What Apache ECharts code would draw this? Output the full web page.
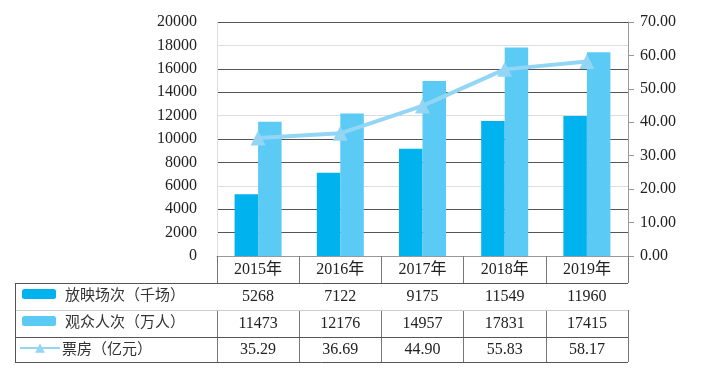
<!DOCTYPE html>
<html>
<head>
<meta charset="utf-8">
<script src="https://cdn.jsdelivr.net/npm/echarts@6/dist/echarts.min.js"></script>
<style>
html,body{margin:0;padding:0;background:#fff;}
#chart{width:709px;height:371px;}
</style>
</head>
<body>
<div id="chart"></div>
<script>
// ---- data ----
var years = ['2015年', '2016年', '2017年', '2018年', '2019年'];
var screenings = [5268, 7122, 9175, 11549, 11960];      // 放映场次（千场）
var audience = [11473, 12176, 14957, 17831, 17415];     // 观众人次（万人）
var boxOffice = [35.29, 36.69, 44.90, 55.83, 58.17];    // 票房（亿元）
var seriesNames = ['放映场次（千场）', '观众人次（万人）', '票房（亿元）'];
var leftTicks = { min: 0, max: 20000, interval: 2000 };
var rightTicks = { min: 0, max: 70, interval: 10 };

// ---- layout ----
var W = 709, H = 371;
var PL = 217, PR = 628, PT = 22, PB = 256;
var rows = [256, 283, 310, 337, 362];
var TABLE_LEFT = 15;
var serif = "'Liberation Serif', 'Times New Roman', 'Noto Sans CJK SC', serif";
var cjk = "'Noto Sans CJK SC', sans-serif";
var C1 = '#00B2EE', C2 = '#5BCAF4', C3 = '#93D5F4';

var chart = echarts.init(document.getElementById('chart'), null, { renderer: 'canvas' });

function tableAxis(idx, data, fmt) {
  var off = rows[idx] - PB;
  var len = rows[idx + 1] - rows[idx];
  return {
    type: 'category', gridIndex: 0, position: 'bottom', offset: off,
    data: data.map(fmt),
    axisLine: { show: false },
    axisTick: { show: true, length: len, lineStyle: { color: '#777', width: 1 } },
    axisLabel: {
      margin: len / 2, verticalAlign: 'middle', fontSize: 16,
      fontFamily: serif, color: '#222', interval: 0
    },
    splitLine: { show: false }
  };
}

var hLines = [
  { y: rows[1], c: '#555' },
  { y: rows[2], c: '#ccc' },
  { y: rows[3], c: '#555' },
  { y: rows[4], c: '#555' }
];
var graphics = hLines.map(function (l) {
  return { type: 'line', shape: { x1: TABLE_LEFT, y1: l.y + 0.5, x2: PR, y2: l.y + 0.5 },
    style: { stroke: l.c, lineWidth: 1 }, z: 10 };
});
graphics.push({ type: 'line', shape: { x1: TABLE_LEFT + 0.5, y1: rows[1], x2: TABLE_LEFT + 0.5, y2: rows[4] },
  style: { stroke: '#555', lineWidth: 1 }, z: 10 });

var legendText = { fontFamily: cjk, fontSize: 15, color: '#333', lineHeight: 16 };
var option = {
  backgroundColor: '#fff',
  animation: false,
  grid: { left: PL, right: W - PR, top: PT, bottom: H - PB, containLabel: false },
  legend: [
    { data: [seriesNames[0]], orient: 'vertical', left: 22, top: rows[1] + 3, itemWidth: 34, itemHeight: 10,
      padding: 0, textStyle: Object.assign({ padding: [0, 0, 0, 4] }, legendText), selectedMode: false },
    { data: [seriesNames[1]], orient: 'vertical', left: 22, top: rows[2] + 3, itemWidth: 34, itemHeight: 10,
      padding: 0, textStyle: Object.assign({ padding: [0, 0, 0, 4] }, legendText), selectedMode: false },
    { data: [seriesNames[2]], orient: 'vertical', left: 19, top: rows[3] + 3, itemWidth: 40, itemHeight: 12,
      padding: 0, textStyle: Object.assign({ padding: [0, 0, 0, -3] }, legendText), selectedMode: false }
  ],
  xAxis: [
    {
      type: 'category', gridIndex: 0, position: 'bottom', data: years,
      axisLine: { show: true, lineStyle: { color: '#999', width: 1 } },
      axisTick: { show: true, length: rows[1] - rows[0], lineStyle: { color: '#777' } },
      axisLabel: { margin: (rows[1] - rows[0]) / 2, verticalAlign: 'middle', fontSize: 16,
        fontFamily: serif, color: '#222', interval: 0 },
      splitLine: { show: false }
    },
    tableAxis(1, screenings, function (v) { return String(v); }),
    tableAxis(2, audience, function (v) { return String(v); }),
    tableAxis(3, boxOffice, function (v) { return v.toFixed(2); })
  ],
  yAxis: [
    {
      type: 'value', min: leftTicks.min, max: leftTicks.max, interval: leftTicks.interval,
      axisLine: { show: true, lineStyle: { color: '#ddd' } },
      axisTick: { show: false },
      axisLabel: { margin: 20, fontSize: 16, fontFamily: serif, color: '#222',
        formatter: function (v) { return String(v); } },
      splitLine: { show: true, lineStyle: { color: ['#ddd', '#555', '#555'], width: 1 } }
    },
    {
      type: 'value', position: 'right', min: rightTicks.min, max: rightTicks.max, interval: rightTicks.interval,
      axisLine: { show: true, lineStyle: { color: '#999' } },
      axisTick: { show: true, length: 6, lineStyle: { color: '#999' } },
      axisLabel: { margin: 12, fontSize: 16, fontFamily: serif, color: '#222',
        formatter: function (v) { return v.toFixed(2); } },
      splitLine: { show: false }
    }
  ],
  series: [
    { name: seriesNames[0], type: 'bar', xAxisIndex: 0, yAxisIndex: 0, data: screenings,
      barWidth: 23.5, barGap: '0%', itemStyle: { color: C1 } },
    { name: seriesNames[1], type: 'bar', xAxisIndex: 0, yAxisIndex: 0, data: audience,
      barWidth: 23.5, barGap: '0%', itemStyle: { color: C2 } },
    { name: seriesNames[2], type: 'line', xAxisIndex: 0, yAxisIndex: 1, data: boxOffice,
      symbol: 'triangle', symbolSize: 15, showSymbol: true,
      lineStyle: { color: C3, width: 4 }, itemStyle: { color: C3 }, z: 5 }
  ],
  graphic: graphics
};
chart.setOption(option);
</script>
</body>
</html>
